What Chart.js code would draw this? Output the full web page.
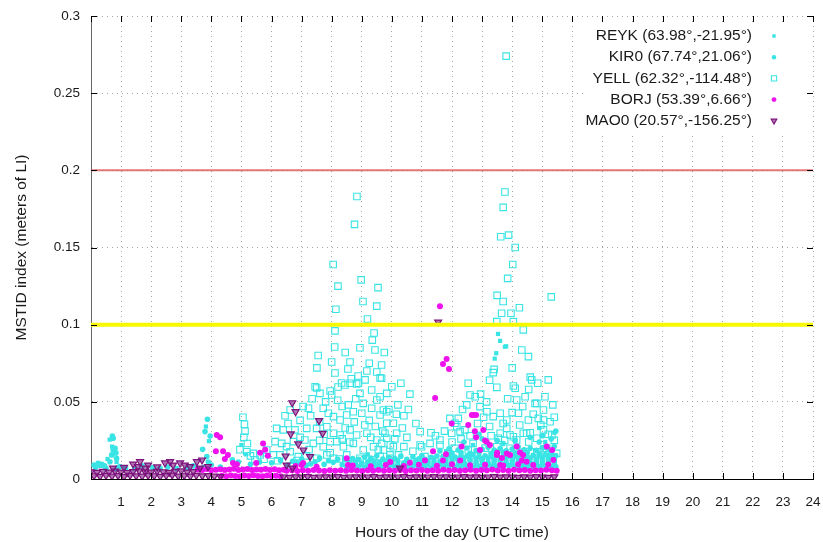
<!DOCTYPE html>
<html>
<head>
<meta charset="utf-8">
<script src="https://cdn.jsdelivr.net/npm/chart.js@4.4.1/dist/chart.umd.min.js"></script>
<style>
  html, body { margin: 0; padding: 0; background: #fff; }
  #wrap { width: 823px; height: 542px; }
</style>
</head>
<body>
<div id="wrap"><canvas id="chart" width="823" height="542"></canvas></div>
<script>
// Station names with their coordinates (lat, lon)
const stationLabels = [
  'REYK (63.98°,-21.95°)',
  'KIR0 (67.74°,21.06°)',
  'YELL (62.32°,-114.48°)',
  'BORJ (53.39°,6.66°)',
  'MAO0 (20.57°,-156.25°)'
];

// Tick labels
const hourTickLabels = ['1','2','3','4','5','6','7','8','9','10','11','12','13','14','15','16','17','18','19','20','21','22','23','24'];
const indexTickLabels = ['0','0.05','0.1','0.15','0.2','0.25','0.3'];

// Reference levels of the MSTID index
const strongLevel = 0.2;
const moderateLevel = 0.1;

// [hour UTC, MSTID index] samples per station
const reyk = [
  [0.62,.0255],[0.7,.021],[0.78,.0165],[0.55,.013],[0.85,.011],[0.3,.0085],[0.9,.0075],
  [3.82,.034],[3.92,.0245],[5.0,.022],[5.15,.016],
  [9.2,.016],[10.5,.012],[11.8,.018],[12.7,.022],[14.2,.02],[15.1,.024],[15.4,.03],[14.9,.033],
  [13.53,.094],[13.6,.0895],[13.8,.086],[13.47,.0815],[13.76,.0857],[13.42,.078]
];

const kir0 = [
  [0.71,.0279],[0.74,.0264],[0.8,.0199],[0.74,.0188],[0.83,.017],[0.69,.0156],[0.85,.0134],[0.63,.0112],
  [0.24,.0102],[0.36,.0095],[0.96,.008],[0.15,.0075],[0.45,.0085],[0.1,.009],
  [1.15,.0072],[1.45,.0068],[1.7,.0085],[2.05,.0075],[2.3,.007],[2.55,.0078],[2.85,.0068],[3.2,.0072],
  [3.4,.0085],[3.75,.0075],[4.0,.009],[4.3,.0078],[0.5,.0068],[0.85,.0065],
  [3.87,.0387],[3.79,.0307],[3.96,.0279],[3.71,.0192],[3.85,.0145],[3.9,.011],
  [4.9,.011],[5.3,.0095],[5.6,.011],[6.0,.0105],[6.3,.012],[4.7,.0125],
  [6.55,.009],[6.85,.0105],[7.15,.0088],[7.45,.0112],[7.75,.0095],[8.05,.0108],[8.35,.0092],[7.0,.013],[7.6,.0135],[8.2,.0128],
  [6.7,.0115],[7.3,.0098],[7.9,.0118],[8.45,.0125],
  [8.5,.0078],[8.7,.0072],[8.9,.0081],[9.1,.0075],[9.3,.007],[9.5,.0079],[9.7,.0074],[9.9,.0082],[10.1,.0076],[10.3,.0071],
  [10.5,.0078],[10.7,.0085],[10.9,.0074],[11.1,.0079],[11.3,.0072],[11.5,.0081],[11.7,.0077],[11.9,.0083],[12.1,.0075],[12.3,.0079],
  [12.5,.0086],[12.7,.0074],[12.9,.0081],[13.1,.0077],[13.3,.0084],[13.5,.0076],[13.7,.008],[13.9,.0087],[14.1,.0075],[14.3,.0082],
  [14.5,.0078],[14.7,.0085],[14.9,.0079],[15.1,.0083],[15.3,.0077],[15.45,.008],
  [8.6,.0095],[8.8,.0092],[9.0,.0097],[9.2,.0093],[9.4,.0096],[9.6,.0091],[9.8,.0098],[10.0,.0094],[10.2,.0092],[10.4,.0097],
  [10.6,.0093],[10.8,.0096],[11.0,.0091],[11.2,.0098],[11.4,.0094],[11.6,.0097],[11.8,.0093],[12.0,.0096],[12.2,.0092],[12.4,.0098],
  [12.6,.0094],[12.8,.0097],[13.0,.0093],[13.2,.0096],[13.4,.0092],[13.6,.0098],[13.8,.0094],[14.0,.0097],[14.2,.0093],[14.4,.0096],
  [14.6,.0092],[14.8,.0098],[15.0,.0094],[15.2,.0097],[15.4,.0093],
  [8.6,.0108],[8.8,.0115],[9.0,.0104],[9.2,.0112],[9.4,.0118],[9.6,.0106],[9.8,.0113],[10.0,.0109],[10.2,.0116],[10.4,.0105],
  [10.6,.0112],[10.8,.0119],[11.0,.0107],[11.2,.0114],[11.4,.0111],[11.6,.0117],[11.8,.0108],[12.0,.0115],[12.2,.0121],[12.4,.0109],
  [12.6,.0116],[12.8,.0112],[13.0,.0118],[13.2,.0107],[13.4,.0114],[13.6,.012],[13.8,.011],[14.0,.0117],[14.2,.0113],[14.4,.0119],
  [14.6,.0108],[14.8,.0115],[15.0,.0111],[15.2,.0118],[15.4,.0112],
  [8.7,.0132],[8.9,.0128],[9.3,.0135],[9.7,.0129],[10.1,.0133],[10.5,.0127],[10.9,.0131],[11.1,.0128],[11.4,.0134],[11.8,.013],
  [12.0,.0133],[12.2,.0129],[12.4,.0136],[12.6,.0131],[12.8,.0134],[13.0,.0129],[13.2,.0135],[13.4,.013],[13.6,.0133],[13.8,.0136],
  [14.0,.0131],[14.2,.0134],[14.4,.0129],[14.6,.0135],[14.8,.013],[15.0,.0133],[15.2,.0136],[15.4,.0131],
  [9.1,.0142],[9.5,.0151],[9.9,.0139],[10.3,.0148],[10.7,.0144],[11.0,.0152],[11.3,.0141],[11.5,.0149],[11.7,.0146],[11.9,.0155],
  [12.1,.0143],[12.3,.015],[12.5,.0147],[12.7,.0158],[12.9,.0144],[13.1,.0151],[13.3,.0148],[13.5,.0156],[13.7,.0145],[13.9,.0152],
  [14.1,.0149],[14.3,.0157],[14.5,.0146],[14.7,.0153],[14.9,.015],[15.1,.0158],[15.3,.0147],[15.45,.0152],
  [12.0,.0168],[12.3,.0172],[12.6,.0166],[12.9,.0171],[13.3,.0167],[13.7,.0173],[14.1,.0169],[14.5,.0172],[14.9,.0167],[15.3,.0171],
  [11.6,.0182],[11.9,.0195],[12.2,.0188],[12.5,.0201],[12.8,.0185],[13.0,.0192],[13.2,.0205],[13.4,.0187],[13.6,.0198],[13.8,.0183],
  [14.0,.0194],[14.2,.0208],[14.4,.0189],[14.6,.0199],[14.8,.0186],[15.0,.0203],[15.2,.0191],[15.4,.021],
  [12.4,.024],[13.0,.026],[13.7,.023],[14.1,.025],[14.6,.027],[15.0,.028],[15.3,.026],[15.45,.031],[14.9,.024],[12.9,.029],[13.5,.025]
];

const yell = [
  [5.05,.040],[5.1,.0355],[5.12,.031],[5.08,.027],[5.2,.023],[4.95,.019],[5.3,.015],[5.45,.0125],[5.75,.0128],[6.2,.0118],
  [5.18,.0177],[5.4,.0166],[5.62,.0156],[5.84,.0188],[6.06,.0156],[6.28,.0156],
  [7.45,.0598],[7.61,.0555],[8.0,.0544],[8.44,.0609],[8.61,.062],[8.89,.062],[8.94,.0555],[9.33,.0577],[9.5,.0512],[9.83,.0555],[10.0,.0598],
  [6.62,.0447],[7.23,.0458],[7.72,.0458],[7.89,.0426],[8.06,.0404],[8.28,.0382],[8.5,.0415],[8.72,.0436],[9.0,.0426],[9.33,.0458],[9.61,.0415],[9.83,.0436],[10.05,.0361],
  [6.17,.0328],[6.39,.0318],[6.78,.0318],[7.17,.0328],[7.5,.0328],[7.84,.0339],[8.06,.0296],[8.28,.0285],[8.61,.0318],[8.83,.0285],[9.17,.0296],[9.5,.0253],[9.83,.0264],[10.16,.0296],
  [6.12,.0242],[6.34,.0231],[6.73,.0242],[7.11,.0253],[7.39,.0231],[7.72,.0209],[7.95,.0242],[8.17,.0242],[8.39,.0209],[8.72,.0231],[9.05,.0188],[9.39,.0209],[9.72,.0188],[10.05,.0209],
  [6.62,.0177],[6.89,.0145],[7.5,.0134],[7.84,.0156],[8.06,.0134],[8.5,.0156],[8.94,.0134],[9.39,.0123],[9.61,.0145],[9.94,.0134],[10.22,.0156],
  [6.45,.041],[6.55,.036],[6.95,.038],[7.05,.047],[7.3,.041],[7.35,.052],[7.6,.037],[7.8,.05],[7.95,.057],[8.2,.051],
  [8.35,.047],[8.45,.033],[6.5,.021],[6.95,.027],[7.25,.019],[7.6,.025],[7.75,.029],[8.35,.026],[8.6,.024],[6.85,.012],
  [7.15,.015],[7.95,.017],[8.25,.013],
  [8.55,.048],[8.8,.052],[9.05,.049],[9.25,.038],[9.45,.034],[9.7,.031],[9.9,.045],[10.15,.042],[10.35,.033],[8.75,.037],
  [9.1,.035],[9.3,.027],[9.55,.019],[9.95,.022],[10.1,.026],[10.4,.021],[10.55,.045],[8.65,.065],[9.25,.075],[9.75,.082],
  [8.45,.082],[9.35,.09],
  [8.84,.183],[8.76,.165],[8.05,.139],[8.98,.129],[8.21,.125],[9.54,.124],[9.04,.115],[8.14,.110],[9.5,.112],[9.19,.1037],
  [8.11,.096],[9.41,.0946],[8.1,.0855],[8.94,.085],[9.44,.0836],[7.55,.080],[7.51,.072],[8.0,.0758],[8.61,.0758],[8.54,.0713],
  [8.11,.0687],[8.88,.0667],[9.17,.07],[9.5,.0693],[9.61,.0655],[9.11,.0642],[8.33,.0622],[8.83,.0616],[8.21,.0596],[7.5,.059],
  [9.66,.0739],[9.66,.0653],[9.72,.0447],[9.83,.0361],[9.77,.0296],[9.66,.0231],[9.94,.0156],[9.61,.0533],
  [10.94,.0307],[10.99,.0209],[11.1,.0145],[10.94,.022],[11.27,.0231],[10.2,.048],[10.4,.041],[10.6,.055],[10.8,.036],[10.3,.062],
  [10.5,.027],[10.7,.018],[11.3,.03],
  [11.6,.022],[11.6,.0253],[11.99,.0296],[12.27,.0307],[11.93,.0393],[12.1,.0361],[12.1,.0199],[12.54,.0188],[12.21,.0393],[12.16,.0339],
  [12.43,.0318],[12.54,.062],[12.6,.0544],[12.77,.0533],[12.49,.048],[12.93,.0469],[13.16,.0436],[13.37,.0404],[13.49,.0594],[13.49,.0209],
  [13.6,.0426],[13.6,.0296],[13.82,.0382],[13.82,.0328],[13.93,.0285],[13.93,.0199],[13.54,.0264],[14.04,.0603],[14.04,.0274],[14.21,.0426],
  [14.15,.0512],[14.15,.0253],[14.37,.0296],[14.43,.0533],[14.43,.0177],[14.48,.0296],[14.54,.0382],[14.76,.049],[14.82,.049],[14.82,.0264],
  [14.82,.0177],[14.87,.0393],[15.04,.0382],[15.04,.0318],[15.04,.0447],[15.09,.0533],[15.15,.0199],[15.26,.0371],[15.32,.0285],[15.48,.0166],
  [13.37,.0689],[14.65,.0642],[14.1,.0588],[15.2,.0642],
  [11.45,.028],[11.75,.031],[12.0,.024],[12.3,.026],[12.6,.028],[12.85,.036],[13.05,.04],[13.25,.034],[13.3,.028],[13.7,.036],
  [14.0,.043],[14.25,.035],[14.35,.047],[14.6,.03],[14.7,.042],[14.95,.035],[15.2,.029],[15.4,.025],[15.4,.04],[12.7,.023],
  [13.1,.02],[13.75,.025],[14.55,.024],[15.1,.017],[12.35,.045],[12.95,.055],[13.15,.05],[13.85,.052],[14.55,.058],[15.35,.048],
  [13.25,.064],[14.0,.072],[14.6,.066],
  [13.8,.274],[13.76,.186],[13.7,.176],[13.62,.157],[13.88,.158],[14.1,.150],[14.02,.139],[13.85,.130],[13.5,.119],[15.3,.118],
  [13.7,.115],[14.24,.111],[13.65,.1074],[13.96,.1074],[13.49,.102],[14.04,.102],[14.37,.0966],[14.32,.0836],[14.54,.0793],[13.4,.071],[14.85,.062]
];

const borj = [
  [4.18,.0285],[4.29,.027],[4.15,.018],[4.39,.018],[4.55,.0155],[4.45,.013],[4.72,.0104],[4.85,.0095],
  [5.72,.023],[5.79,.019],[5.62,.017],[5.88,.015],[5.49,.0104],[7.0,.009],[7.05,.0104],[8.5,.0134],[8.54,.009],
  [11.6,.112],[11.82,.0778],[11.7,.0745],[11.9,.0713],[11.44,.0525],
  [12.66,.0415],[12.8,.0415],[11.99,.036],[12.54,.035],[12.71,.0415],[13.04,.0318],[13.15,.0242],[12.76,.031],[12.8,.027],[13.1,.025],
  [13.26,.022],[12.93,.0188],[13.49,.0156],[13.5,.017],[13.66,.0136],[13.82,.0166],[13.93,.0155],[14.15,.021],[14.26,.0172],[14.36,.0155],
  [14.32,.012],[14.48,.0112],[11.37,.018],[11.7,.012],[12.32,.021],[12.27,.012],[13.6,.009],[15.15,.021],[15.37,.0123],[15.33,.0188],
  [9.95,.011],[10.6,.0105],[11.1,.012],[11.8,.016],
  [4.35,.0021],[4.5,.0018],[4.65,.0023],[4.8,.002],[4.95,.0017],[5.1,.0022],[5.25,.0019],[5.4,.0024],[5.55,.002],[5.7,.0018],
  [5.85,.0022],[6.0,.0019],[6.15,.0021],[6.3,.0018],
  [3.55,.0061],[3.7,.0058],[3.85,.0064],[4.0,.0057],[4.15,.006],[4.3,.0063],[4.45,.0058],[4.6,.0062],[4.75,.0066],[4.9,.0059],
  [5.05,.0061],[5.2,.0065],[5.35,.0058],[5.5,.0062],[5.65,.006],[5.8,.0064],[5.95,.0059],[6.1,.0063],[6.25,.0057],[6.4,.006],
  [6.5,.0054],[6.68,.0057],[6.86,.0052],[7.04,.0056],[7.22,.0053],[7.4,.0058],[7.58,.0055],[7.76,.0052],[7.94,.0057],[8.12,.0054],
  [8.3,.0056],[8.48,.0053],[8.66,.0058],[8.84,.0055],[9.02,.0052],[9.2,.0057],[9.38,.0054],[9.56,.0059],[9.74,.0053],[9.92,.0056],
  [10.1,.0054],[10.28,.0058],[10.46,.0052],[10.64,.0056],[10.82,.0055],[11.0,.0059],[11.18,.0053],[11.36,.0057],[11.54,.0054],[11.72,.006],
  [11.9,.0055],[12.08,.0058],[12.26,.0053],[12.44,.0057],[12.62,.006],[12.8,.0054],[12.98,.0058],[13.16,.0056],[13.34,.0061],[13.52,.0055],
  [13.7,.0058],[13.88,.0054],[14.06,.006],[14.24,.0056],[14.42,.0059],[14.6,.0053],[14.78,.0057],[14.96,.0055],[15.14,.006],[15.32,.0056],[15.48,.0054],
  [6.8,.0085],[7.5,.008],[8.7,.0088],[9.3,.0082],[9.8,.009],[10.4,.0084],[10.9,.0092],[11.5,.0086],[12.0,.0095],[12.6,.0089],
  [13.1,.0093],[13.7,.0087],[14.2,.0096],[14.7,.009],[15.2,.0094]
];

const mao0 = [
  [0.1,.0021],[0.3,.0017],[0.5,.0023],[0.7,.0019],[0.9,.0022],[1.1,.0016],[1.3,.0024],[1.5,.002],[1.7,.0018],[1.9,.0023],
  [2.1,.0021],[2.3,.0017],[2.5,.0022],[2.7,.0025],[2.9,.0019],[3.1,.0021],[3.3,.0018],[3.5,.0023],[3.7,.002],[3.9,.0022],[4.1,.0018],[4.3,.0016],
  [0.0,.0046],[0.2,.0043],[0.4,.0049],[0.6,.0044],[0.8,.0051],[1.0,.0045],[1.2,.0042],[1.4,.0048],[1.6,.0053],[1.8,.0046],
  [2.0,.0044],[2.2,.005],[2.4,.0047],[2.6,.0043],[2.8,.0049],[3.0,.0052],[3.2,.0045],[3.4,.0048],
  [6.4,.0013],[6.6,.0011],[6.8,.0014],[7.0,.0012],[7.2,.0015],[7.4,.0011],[7.6,.0013],[7.8,.0014],[8.0,.0012],[8.2,.0015],
  [8.4,.0011],[8.6,.0013],[8.8,.0014],[9.0,.0012],[9.2,.0013],[9.4,.0015],[9.6,.0011],[9.8,.0014],[10.0,.0012],[10.2,.0013],
  [10.4,.0015],[10.6,.0011],[10.8,.0014],[11.0,.0012],[11.2,.0013],[11.4,.0015],[11.6,.0012],[11.8,.0014],[12.0,.0011],[12.2,.0013],
  [12.4,.0015],[12.6,.0012],[12.8,.0014],[13.0,.0011],[13.2,.0013],[13.4,.0015],[13.6,.0012],[13.8,.0014],[14.0,.0013],[14.2,.0011],
  [14.4,.0014],[14.6,.0012],[14.8,.0015],[15.0,.0013],[15.2,.0011],[15.4,.0014],
  [1.40,.0097],[1.63,.0112],[1.56,.008],[1.8,.0071],[1.9,.009],[2.46,.0104],[2.63,.0112],[2.73,.009],[2.96,.0104],[3.12,.009],
  [3.29,.008],[3.52,.0112],[3.69,.0123],[3.62,.0071],[3.89,.008],[0.73,.0071],[1.1,.0075],[2.2,.0078],
  [6.69,.0494],[6.80,.0436],[7.58,.0378],[7.70,.0296],[6.64,.0292],[6.89,.0227],[7.06,.0188],[7.28,.0145],[6.47,.0149],[6.5,.009],
  [6.7,.007],[10.27,.007],[11.54,.1017]
];

const cyan = '#3ae4e4';
const magenta = '#ee12ee';
const purple = '#7c137c';

const series = [
  { label: stationLabels[0], data: reyk, pointStyle: 'rect', pointRadius: 3, backgroundColor: cyan, borderColor: cyan, borderWidth: 0, rotation: 0, order: 5 },
  { label: stationLabels[1], data: kir0, pointStyle: 'circle', pointRadius: 2.8, backgroundColor: cyan, borderColor: cyan, borderWidth: 0, rotation: 0, order: 4 },
  { label: stationLabels[2], data: yell, pointStyle: 'rect', pointRadius: 4.6, backgroundColor: 'rgba(0,0,0,0)', borderColor: cyan, borderWidth: 1.1, rotation: 0, order: 3 },
  { label: stationLabels[3], data: borj, pointStyle: 'circle', pointRadius: 3, backgroundColor: magenta, borderColor: magenta, borderWidth: 0, rotation: 0, order: 2 },
  { label: stationLabels[4], data: mao0, pointStyle: 'triangle', pointRadius: 4, backgroundColor: 'rgba(128,24,128,0.6)', borderColor: purple, borderWidth: 1.2, rotation: 180, order: 1 }
];

const toPoints = arr => arr.map(p => ({ x: p[0], y: p[1] }));

const datasets = series.map(s => ({
  label: s.label,
  data: toPoints(s.data),
  pointStyle: s.pointStyle,
  pointRadius: s.pointRadius,
  pointHoverRadius: s.pointRadius,
  backgroundColor: s.backgroundColor,
  borderColor: s.borderColor,
  borderWidth: s.borderWidth,
  rotation: s.rotation,
  order: s.order,
  showLine: false
}));

// Horizontal reference lines across the whole day
datasets.push({
  label: 'level 0.2', data: [{ x: 0, y: strongLevel }, { x: 24, y: strongLevel }],
  showLine: true, borderColor: 'rgba(222,96,96,0.85)', borderWidth: 2, pointRadius: 0, order: 0
});
datasets.push({
  label: 'level 0.1', data: [{ x: 0, y: moderateLevel }, { x: 24, y: moderateLevel }],
  showLine: true, borderColor: '#f8f800', borderWidth: 4, pointRadius: 0, order: 0
});

const FONT = '"Liberation Sans", Arial, Helvetica, sans-serif';
const TEXT_SIZE = 15.5;
const TICK_SIZE = 13.5;

// Station key: right-aligned names followed by the marker, on an opaque box
const stationKey = {
  id: 'stationKey',
  afterDatasetsDraw(chart) {
    const ctx = chart.ctx;
    ctx.save();
    ctx.fillStyle = '#fff';
    ctx.fillRect(584, 25, 220, 108);
    ctx.font = TEXT_SIZE + 'px ' + FONT;
    ctx.textAlign = 'right';
    ctx.textBaseline = 'middle';
    series.forEach((s, i) => {
      const y = 36 + i * 21.2;
      ctx.fillStyle = '#1a1a1a';
      ctx.fillText(s.label, 752, y);
      const x = 774;
      ctx.fillStyle = s.backgroundColor;
      ctx.strokeStyle = s.borderColor;
      ctx.lineWidth = s.borderWidth;
      const r = s.pointRadius * 0.8;
      ctx.beginPath();
      if (s.pointStyle === 'rect') {
        const h = r * Math.SQRT1_2;
        ctx.rect(x - h, y - h, 2 * h, 2 * h);
      } else if (s.pointStyle === 'circle') {
        ctx.arc(x, y, r, 0, Math.PI * 2);
      } else {
        // downward triangle
        ctx.moveTo(x - r * 0.866, y - r * 0.5);
        ctx.lineTo(x + r * 0.866, y - r * 0.5);
        ctx.lineTo(x, y + r);
        ctx.closePath();
      }
      ctx.fill();
      if (s.borderWidth > 0) ctx.stroke();
    });
    ctx.restore();
  }
};

// Inward tick marks on all four sides
const frameTicks = {
  id: 'frameTicks',
  afterDatasetsDraw(chart) {
    const { ctx, chartArea: a, scales } = chart;
    const len = 6;
    ctx.save();
    ctx.strokeStyle = '#000';
    ctx.lineWidth = 1;
    ctx.beginPath();
    scales.x.ticks.forEach(t => {
      const px = Math.round(scales.x.getPixelForValue(t.value)) + 0.5;
      ctx.moveTo(px, a.bottom); ctx.lineTo(px, a.bottom - len);
      ctx.moveTo(px, a.top); ctx.lineTo(px, a.top + len);
    });
    scales.y.ticks.forEach(t => {
      const py = Math.round(scales.y.getPixelForValue(t.value)) + 0.5;
      ctx.moveTo(a.left, py); ctx.lineTo(a.left + len, py);
      ctx.moveTo(a.right, py); ctx.lineTo(a.right - len, py);
    });
    ctx.stroke();
    ctx.restore();
  }
};

new Chart(document.getElementById('chart'), {
  type: 'scatter',
  data: { datasets },
  plugins: [frameTicks, stationKey],
  options: {
    responsive: false,
    animation: false,
    devicePixelRatio: 1,
    layout: { padding: { left: 4, right: 10, top: 16, bottom: 0 } },
    plugins: { legend: { display: false }, tooltip: { enabled: false } },
    scales: {
      x: {
        type: 'linear', min: 0, max: 24,
        afterFit: s => { s.height = 63; },
        ticks: {
          stepSize: 1, padding: 0, color: '#1a1a1a', maxRotation: 0, autoSkip: false,
          font: { family: FONT, size: TICK_SIZE },
          callback: v => (v >= 1 && v <= 24 ? hourTickLabels[v - 1] : '')
        },
        grid: { color: '#a4a4a4', lineWidth: 1, drawTicks: true, tickLength: 15, tickColor: 'rgba(0,0,0,0)' },
        border: { display: true, color: '#000', width: 1, dash: [1, 4] },
        title: { display: true, text: 'Hours of the day (UTC time)', color: '#1a1a1a', font: { family: FONT, size: TEXT_SIZE }, padding: { top: 0, bottom: 0 } }
      },
      y: {
        type: 'linear', min: 0, max: 0.3,
        afterFit: s => { s.width = 87; },
        ticks: {
          stepSize: 0.05, padding: 0, color: '#1a1a1a',
          font: { family: FONT, size: TICK_SIZE },
          callback: (v, i) => indexTickLabels[i]
        },
        grid: { color: '#a4a4a4', lineWidth: 1, drawTicks: true, tickLength: 11, tickColor: 'rgba(0,0,0,0)' },
        border: { display: true, color: '#666', width: 1, dash: [1, 4] },
        title: { display: true, text: 'MSTID index (meters of LI)', color: '#1a1a1a', font: { family: FONT, size: TEXT_SIZE }, padding: { top: 8, bottom: 0 } }
      }
    }
  }
});
</script>
</body>
</html>
